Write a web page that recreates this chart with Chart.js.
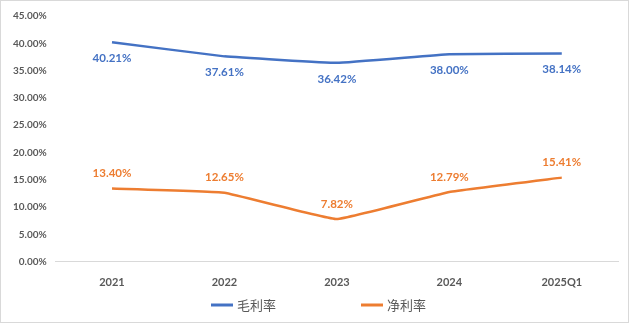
<!DOCTYPE html>
<html>
<head>
<meta charset="utf-8">
<script src="https://cdn.jsdelivr.net/npm/chart.js@4"></script>
<style>
  body { margin: 0; background: #fff; }
  #wrap { width: 627px; height: 321px; border: 1px solid #d9d9d9; background: #fff; }
</style>
</head>
<body>
<div id="wrap"><canvas id="myChart"></canvas></div>
<script>
const periods = ['2021', '2022', '2023', '2024', '2025Q1']
const grossMargin = [40.21, 37.61, 36.42, 38.00, 38.14]
const netMargin = [13.40, 12.65, 7.82, 12.79, 15.41]

const blue = '#4472C4'
const orange = '#ED7D31'
const fontFamily = 'Lato, "Noto Sans CJK SC", sans-serif'

// value labels: gross margin under the line, net margin above it
const valueLabels = {
    id: 'valueLabels',
    afterDatasetsDraw(chart) {
        const ctx = chart.ctx
        ctx.save()
        ctx.font = 'bold 11.5px ' + fontFamily
        ctx.textAlign = 'center'
        ctx.textBaseline = 'middle'
        chart.data.datasets.forEach((ds, i) => {
            const meta = chart.getDatasetMeta(i)
            meta.data.forEach((pt, j) => {
                const dy = ds.labelBelow ? 16 : -15
                ctx.fillStyle = ds.borderColor
                ctx.fillText(ds.data[j].toFixed(2) + '%', pt.x, pt.y + dy)
            })
        })
        ctx.restore()
    }
}

// bottom legend with a wide gap between the two entries
const bottomLegend = {
    id: 'bottomLegend',
    afterDraw(chart) {
        const ctx = chart.ctx
        const lineLen = 22
        const gap = 85
        ctx.save()
        ctx.font = '13px "Noto Sans CJK SC", sans-serif'
        ctx.textBaseline = 'middle'
        const items = chart.data.datasets.map(ds => ({
            text: ds.label,
            color: ds.borderColor,
            w: lineLen + 4 + ctx.measureText(ds.label).width
        }))
        const total = items.reduce((t, it) => t + it.w, 0) + gap * (items.length - 1)
        let x = (chart.width - total) / 2 + 4
        const y = chart.height - 17
        items.forEach(it => {
            ctx.strokeStyle = it.color
            ctx.lineWidth = 3
            ctx.beginPath()
            ctx.moveTo(x, y)
            ctx.lineTo(x + lineLen, y)
            ctx.stroke()
            ctx.fillStyle = '#595959'
            ctx.fillText(it.text, x + lineLen + 4, y)
            x += it.w + gap
        })
        ctx.restore()
    }
}

const data = {
    labels: periods,
    datasets: [{
        label: '毛利率',
        data: grossMargin,
        borderColor: blue,
        backgroundColor: blue,
        labelBelow: true
    }, {
        label: '净利率',
        data: netMargin,
        borderColor: orange,
        backgroundColor: orange,
        labelBelow: false
    }]
}

const config = {
    type: 'line',
    data: data,
    options: {
        responsive: true,
        maintainAspectRatio: false,
        animation: false,
        layout: { padding: { left: 3, right: 10, top: 0, bottom: 19 } },
        elements: {
            line: { borderWidth: 2.5, tension: 0.08 },
            point: { radius: 0 }
        },
        scales: {
            x: {
                offset: true,
                grid: { display: false, drawTicks: false },
                border: { color: '#d9d9d9' },
                ticks: {
                    color: '#595959',
                    font: { family: fontFamily, size: 11, weight: 'bold' },
                    padding: 14
                }
            },
            y: {
                min: 0,
                max: 45,
                grid: { display: false, drawTicks: false },
                border: { display: false },
                ticks: {
                    stepSize: 5,
                    autoSkip: false,
                    color: '#595959',
                    font: { family: fontFamily, size: 10, weight: 'bold' },
                    padding: 9,
                    callback: v => v.toFixed(2) + '%'
                }
            }
        },
        plugins: {
            tooltip: { enabled: false },
            legend: { display: false }
        }
    },
    plugins: [valueLabels, bottomLegend]
}

const myChart = new Chart(document.getElementById('myChart'), config)
</script>
</body>
</html>
